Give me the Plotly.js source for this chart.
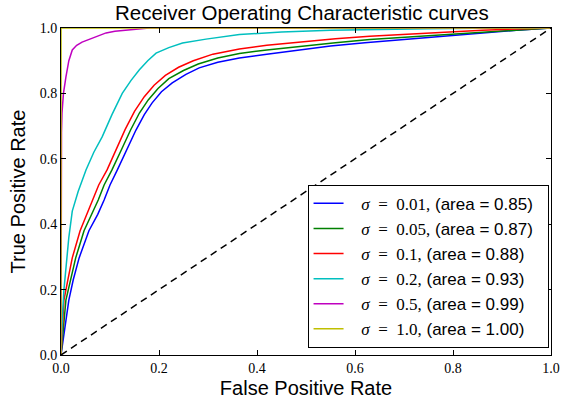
<!DOCTYPE html>
<html>
<head>
<meta charset="utf-8">
<script src="https://cdn.plot.ly/plotly-3.0.1.min.js"></script>
<style>html,body{margin:0;padding:0;background:#fff;}#chart{width:562px;height:405px;}</style>
</head>
<body>
<div id="chart"></div>
<script>
const sigmas = ["0.01", "0.05", "0.1", "0.2", "0.5", "1.0"];
const areas = ["0.85", "0.87", "0.88", "0.93", "0.99", "1.00"];
const colors = ["#0000ff", "#008000", "#ff0000", "#00bfbf", "#bf00bf", "#bfbf00"];

const blue_x = [0, 0.003, 0.008, 0.016, 0.025, 0.037, 0.057, 0.075, 0.088, 0.1, 0.115, 0.135, 0.153, 0.17, 0.186, 0.205, 0.227, 0.255, 0.282, 0.32, 0.364, 0.42, 0.487, 0.55, 0.62, 0.7, 0.79, 0.86, 0.93, 1.0];
const blue_y = [0, 0.03, 0.09, 0.168, 0.23, 0.297, 0.38, 0.43, 0.474, 0.52, 0.566, 0.63, 0.688, 0.735, 0.771, 0.805, 0.832, 0.858, 0.878, 0.895, 0.908, 0.92, 0.933, 0.945, 0.955, 0.965, 0.975, 0.985, 0.993, 1.0];

const green_x = [0, 0.002, 0.006, 0.010, 0.019, 0.030, 0.047, 0.063, 0.076, 0.088, 0.104, 0.124, 0.142, 0.16, 0.178, 0.198, 0.22, 0.25, 0.28, 0.32, 0.364, 0.42, 0.49, 0.56, 0.63, 0.71, 0.79, 0.86, 0.93, 1.0];
const green_y = [0, 0.04, 0.1, 0.168, 0.23, 0.297, 0.38, 0.43, 0.474, 0.52, 0.566, 0.63, 0.688, 0.74, 0.78, 0.815, 0.845, 0.87, 0.89, 0.908, 0.922, 0.933, 0.945, 0.955, 0.965, 0.973, 0.98, 0.988, 0.995, 1.0];

const red_x = [0, 0.002, 0.004, 0.006, 0.014, 0.023, 0.039, 0.053, 0.065, 0.077, 0.094, 0.113, 0.131, 0.15, 0.17, 0.19, 0.213, 0.24, 0.27, 0.31, 0.364, 0.42, 0.49, 0.56, 0.63, 0.71, 0.79, 0.86, 0.93, 1.0];
const red_y = [0, 0.05, 0.11, 0.168, 0.23, 0.297, 0.38, 0.43, 0.474, 0.52, 0.566, 0.63, 0.69, 0.745, 0.79, 0.825, 0.855, 0.88, 0.9, 0.92, 0.936, 0.947, 0.958, 0.967, 0.975, 0.982, 0.988, 0.993, 0.997, 1.0];

const cyan_x = [0, 0.001, 0.003, 0.006, 0.01, 0.016, 0.023, 0.035, 0.051, 0.067, 0.084, 0.104, 0.125, 0.143, 0.16, 0.177, 0.194, 0.22, 0.248, 0.296, 0.364, 0.45, 0.55, 0.65, 0.75, 0.85, 1.0];
const cyan_y = [0, 0.06, 0.12, 0.2, 0.27, 0.36, 0.44, 0.5, 0.566, 0.62, 0.667, 0.735, 0.8, 0.84, 0.872, 0.9, 0.923, 0.94, 0.954, 0.966, 0.98, 0.988, 0.993, 0.996, 0.998, 0.999, 1.0];

const magenta_x = [0, 0, 0.001, 0.002, 0.005, 0.01, 0.016, 0.023, 0.032, 0.043, 0.06, 0.075, 0.092, 0.11, 0.133, 0.155, 0.18, 0.3, 1.0];
const magenta_y = [0, 0.6, 0.68, 0.74, 0.8, 0.85, 0.9, 0.933, 0.947, 0.957, 0.967, 0.976, 0.985, 0.99, 0.994, 0.997, 1.0, 1.0, 1.0];

const yellow_x = [0, 0, 1];
const yellow_y = [0, 1, 1];

const chance_x = [0, 1];
const chance_y = [0, 1];

const xs = [blue_x, green_x, red_x, cyan_x, magenta_x, yellow_x];
const ys = [blue_y, green_y, red_y, cyan_y, magenta_y, yellow_y];

const traces = [];
for (let i = 0; i < sigmas.length; i++) {
  traces.push({
    x: xs[i], y: ys[i], type: 'scatter', mode: 'lines',
    line: {color: colors[i], width: 1.5},
    name: '<span style="font-family:\'Liberation Serif\'">&nbsp;&nbsp;&nbsp;<i>σ</i>  =  ' + sigmas[i] + ',</span> (area = ' + areas[i] + ')&nbsp;&nbsp;'
  });
}
traces.push({
  x: chance_x, y: chance_y, type: 'scatter', mode: 'lines',
  line: {color: '#000000', width: 1.5, dash: '7px,5px'},
  showlegend: false, hoverinfo: 'skip'
});

const axisCommon = {
  range: [0, 1], showgrid: false, zeroline: false,
  showline: true, linecolor: '#000', linewidth: 1, mirror: 'allticks',
  ticks: 'inside', ticklen: 5, tickcolor: '#000', tickwidth: 1,
  dtick: 0.2, tick0: 0, tickformat: '.1f',
  tickfont: {family: 'Liberation Serif', size: 14, color: '#000'}
};

const layout = {
  width: 562, height: 405,
  margin: {l: 61, r: 11, t: 28, b: 50},
  paper_bgcolor: '#fff', plot_bgcolor: '#fff',
  title: {text: 'Receiver Operating Characteristic curves', font: {family: 'Liberation Sans', size: 20.5, color: '#000'}, x: 0.537, xanchor: 'center', y: 0.968, yanchor: 'middle'},
  xaxis: Object.assign({}, axisCommon, {title: {text: 'False Positive Rate', font: {family: 'Liberation Sans', size: 20, color: '#000'}, standoff: 6}}),
  yaxis: Object.assign({}, axisCommon, {title: {text: 'True Positive Rate', font: {family: 'Liberation Sans', size: 20, color: '#000'}, standoff: 8}}),
  legend: {
    x: 0.995, xanchor: 'right', y: 0.022, yanchor: 'bottom',
    bgcolor: '#fff', bordercolor: '#000', borderwidth: 1,
    font: {family: 'Liberation Sans', size: 17, color: '#000'},
    itemwidth: 30
  },
  showlegend: true
};

Plotly.newPlot('chart', traces, layout, {displayModeBar: false, staticPlot: true});
</script>
</body>
</html>
